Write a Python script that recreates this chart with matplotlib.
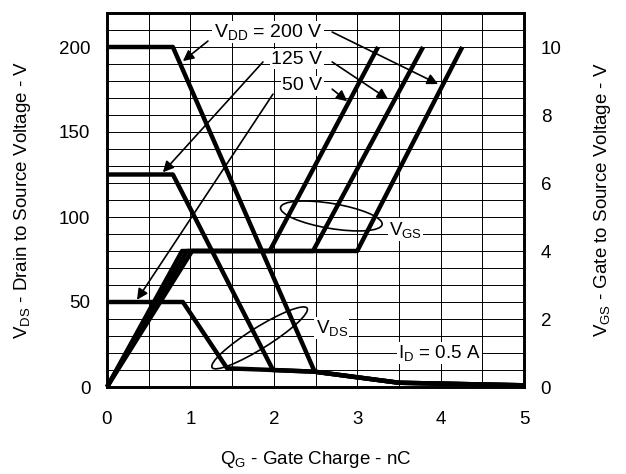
import numpy as np
import matplotlib.pyplot as plt
from matplotlib.patches import Ellipse
from matplotlib.transforms import ScaledTranslation

plt.rcParams['font.family'] = ['Liberation Sans', 'DejaVu Sans']
plt.rcParams['mathtext.fontset'] = 'custom'
plt.rcParams['mathtext.rm'] = 'Liberation Sans'
plt.rcParams['mathtext.it'] = 'Liberation Sans:italic'
plt.rcParams['font.size'] = 13.5

# drain-source voltage (left axis), one trace per VDD
qg_vds_50 = [0, 0.91, 1.44, 1.99, 2.49, 3.5, 5.0]
vds_50 = [50, 50, 11, 10, 9, 2.5, 1.0]
qg_vds_125 = [0, 0.79, 1.99, 2.49, 3.5, 5.0]
vds_125 = [125, 125, 10, 9, 2.5, 1.0]
qg_vds_200 = [0, 0.79, 2.49, 3.5, 5.0]
vds_200 = [200, 200, 9, 2.5, 1.0]

# gate-source voltage (right axis)
qg_vgs_50 = [0, 0.90, 1.95, 3.25]
vgs_50 = [0, 4, 4, 10]
qg_vgs_125 = [0, 0.96, 2.47, 3.79]
vgs_125 = [0, 4, 4, 10]
qg_vgs_200 = [0, 1.02, 3.0, 4.26]
vgs_200 = [0, 4, 4, 10]

x_ticks = [0, 1, 2, 3, 4, 5]
vds_ticks = [0, 50, 100, 150, 200]
vgs_ticks = [0, 2, 4, 6, 8, 10]

LW = 3.2
fig = plt.figure(figsize=(6.26, 4.74), dpi=100)
ax = fig.add_axes([107 / 626, 1 - 387 / 474, 417 / 626, 374 / 474])
ax2 = ax.twinx()

ax.set_xlim(0, 5)
ax.set_ylim(0, 220)
ax2.set_ylim(0, 11)

ax.set_xticks(x_ticks)
ax.set_xticks(np.arange(0, 5.01, 0.5), minor=True)
ax.set_yticks(vds_ticks)
ax.set_yticks(np.arange(0, 220.1, 10), minor=True)
ax2.set_yticks(vgs_ticks)
ax.grid(True, which='both', color='black', lw=0.7)
ax.set_axisbelow(True)

ax.tick_params(axis='both', which='both', length=0)
ax.tick_params(axis='y', pad=12)
ax.tick_params(axis='x', pad=17)
ax2.tick_params(axis='y', length=0, pad=12)

for a in (ax, ax2):
    for s in a.spines.values():
        s.set_linewidth(1.9)

for q, v in [(qg_vds_50, vds_50), (qg_vds_125, vds_125), (qg_vds_200, vds_200)]:
    ax.plot(q, v, color='black', lw=LW, solid_capstyle='butt', clip_on=False)
for q, v in [(qg_vgs_50, vgs_50), (qg_vgs_125, vgs_125), (qg_vgs_200, vgs_200)]:
    ax2.plot(q, v, color='black', lw=LW, solid_capstyle='butt', clip_on=False)

ax.set_xlabel(r'Q$_\mathrm{G}$ - Gate Charge - nC')
ax.set_ylabel(r'V$_\mathrm{DS}$ - Drain to Source Voltage - V')
ax2.set_ylabel(r'V$_\mathrm{GS}$ - Gate to Source Voltage - V')
ax.xaxis.set_label_coords(0.5, -0.165)
ax.yaxis.set_label_coords(-0.178, 0.5)
ax2.yaxis.set_label_coords(1.162, 0.5)

# annotations (positions in VDS units)
box = dict(fc='white', ec='none', pad=1)
T = ax.transData
ax2.text(2.58, 208.8, r'V$_\mathrm{DD}$ = 200 V', ha='right', va='center', fontsize=14,
         transform=T, bbox=box, zorder=5)
ax2.text(2.58, 192.9, '125 V', ha='right', va='center', fontsize=14, transform=T, bbox=box, zorder=5)
ax2.text(2.58, 177.2, '50 V', ha='right', va='center', fontsize=14, transform=T, bbox=box, zorder=5)

arrows = [
    ((1.21, 203.5), (0.91, 191.7)),
    ((2.70, 208.8), (3.97, 178.2)),
    ((1.87, 191.2), (0.67, 126.3)),
    ((2.70, 191.2), (3.37, 169.3)),
    ((1.99, 172.3), (0.36, 51.3)),
    ((2.70, 175.2), (2.88, 168.1)),
]
for tail, head in arrows:
    ax2.annotate('', xy=head, xytext=tail, xycoords=T, textcoords=T,
                 arrowprops=dict(arrowstyle='-|>', color='black', lw=1.2,
                                 mutation_scale=16, shrinkA=0, shrinkB=0),
                 zorder=6)

ax2.text(3.38, 92.6, r'V$_\mathrm{GS}$', ha='left', va='center', transform=T, bbox=box, zorder=5)
ax2.text(2.5, 34.8, r'V$_\mathrm{DS}$', ha='left', va='center', transform=T, bbox=box, zorder=5)
ax2.text(3.49, 20, r'I$_\mathrm{D}$ = 0.5 A', ha='left', va='center', transform=T, bbox=box, zorder=5)

for (xc, yc), w, h, ang in [((2.69, 100.6), 1.03, 0.25, -9.5), ((1.83, 28.9), 1.12, 0.21, 32)]:
    e = Ellipse((0, 0), w, h, angle=ang, fill=False, ec='black', lw=1.2,
                transform=fig.dpi_scale_trans + ScaledTranslation(xc, yc, T), zorder=6)
    ax2.add_patch(e)

fig.savefig('out.png', dpi=100)
